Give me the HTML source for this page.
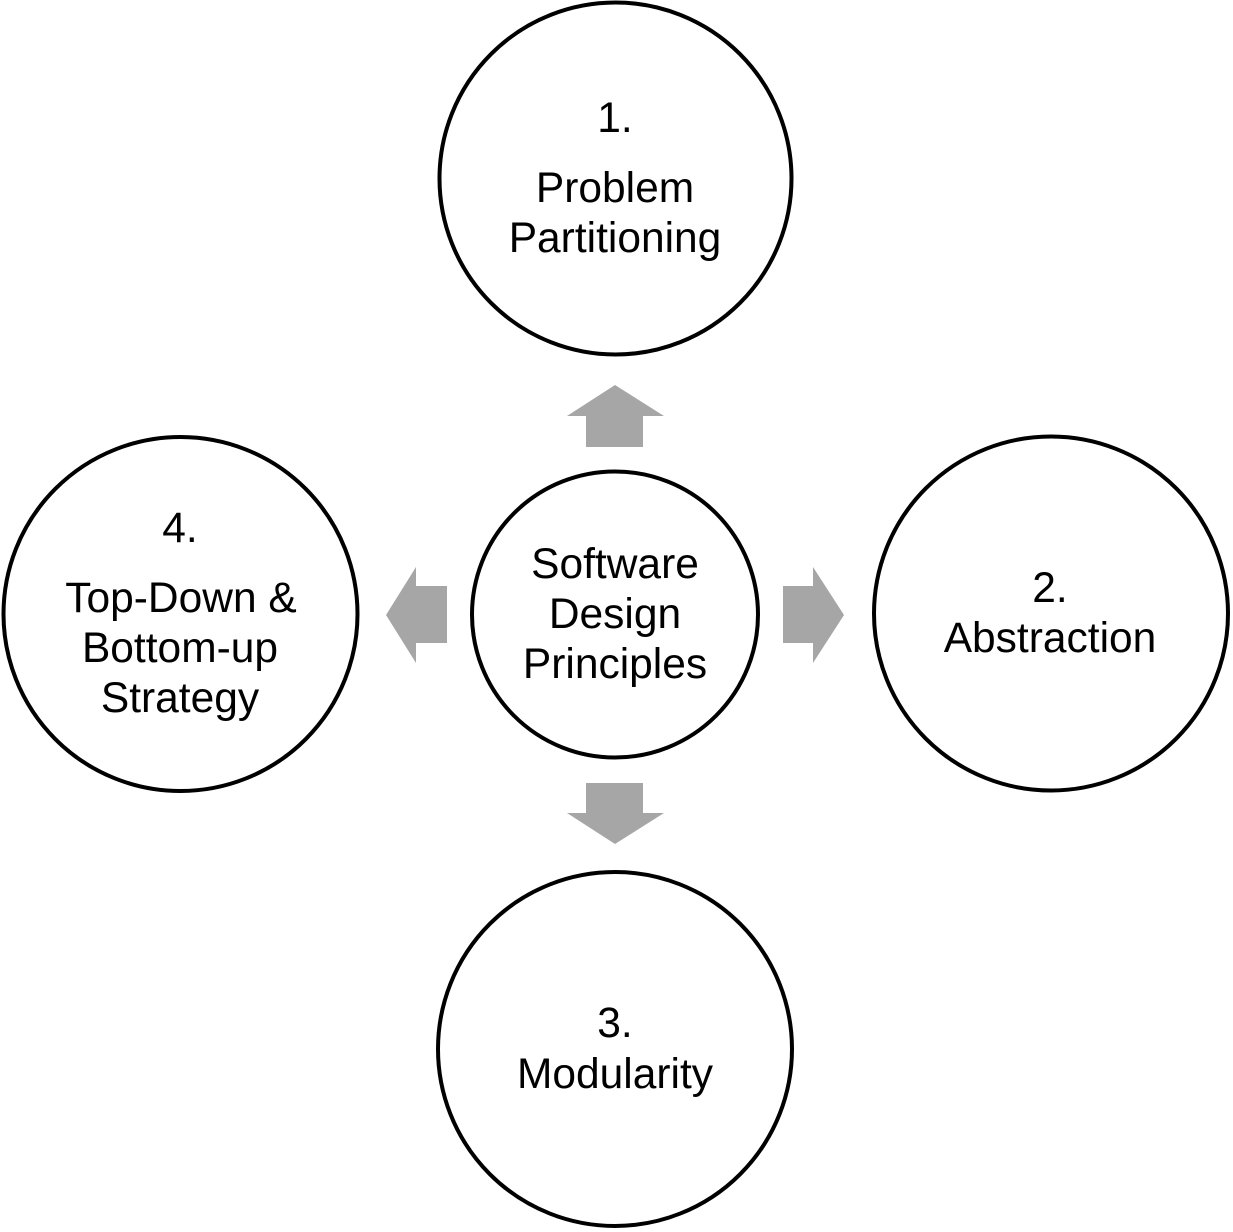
<!DOCTYPE html>
<html>
<head>
<meta charset="utf-8">
<style>
  html, body { margin: 0; padding: 0; background: #ffffff; }
  body { width: 1233px; height: 1232px; overflow: hidden; }
  svg { display: block; }
  text { font-family: "Liberation Sans", sans-serif; font-size: 42.5px; fill: #000; text-anchor: middle; }
</style>
</head>
<body>
<svg width="1233" height="1232" viewBox="0 0 1233 1232" xmlns="http://www.w3.org/2000/svg">
  <rect width="1233" height="1232" fill="#ffffff"/>

  <!-- arrows -->
  <g fill="#a6a6a6">
    <!-- up -->
    <polygon points="615,385 664,416 643,416 643,447 586,447 586,416 567,416"/>
    <!-- down -->
    <polygon points="615,844 664,813 643,813 643,783 586,783 586,813 567,813"/>
    <!-- right -->
    <polygon points="844,615 813,567 813,586 783,586 783,643 813,643 813,663"/>
    <!-- left -->
    <polygon points="386,615 416,567 416,586 447,586 447,643 416,643 416,663"/>
  </g>

  <!-- circles -->
  <g fill="#ffffff" stroke="#000000" stroke-width="4">
    <circle cx="615.5" cy="178.5" r="176"/>
    <circle cx="1051" cy="613.5" r="177"/>
    <circle cx="615" cy="1049" r="177"/>
    <circle cx="180.5" cy="614" r="177"/>
    <circle cx="615" cy="614.5" r="143"/>
  </g>

  <!-- labels -->
  <text x="615" y="132">1.</text>
  <text x="615" y="202">Problem</text>
  <text x="615" y="252">Partitioning</text>

  <text x="1050" y="602">2.</text>
  <text x="1050" y="652">Abstraction</text>

  <text x="615" y="1037">3.</text>
  <text x="615" y="1088">Modularity</text>

  <text x="180" y="542">4.</text>
  <text x="181" y="612">Top-Down &amp;</text>
  <text x="180" y="662">Bottom-up</text>
  <text x="180" y="712">Strategy</text>

  <text x="615" y="578">Software</text>
  <text x="615" y="628">Design</text>
  <text x="615" y="678">Principles</text>
</svg>
</body>
</html>
